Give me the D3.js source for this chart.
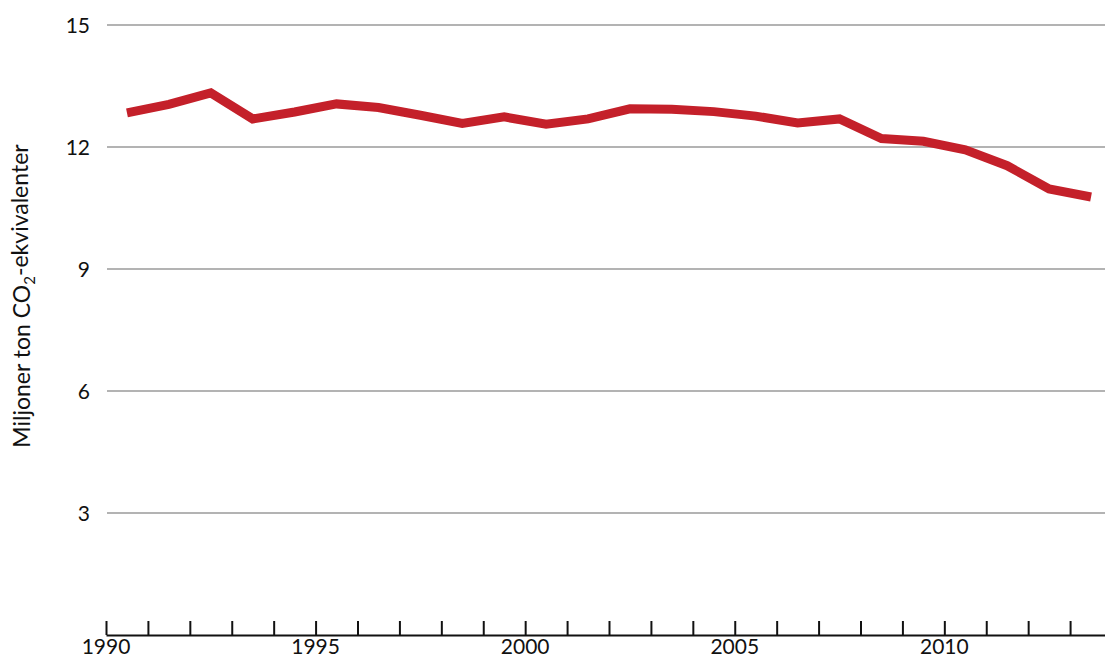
<!DOCTYPE html>
<html>
<head>
<meta charset="utf-8">
<script src="https://cdn.jsdelivr.net/npm/d3@7"></script>
<style>
  html, body { margin: 0; padding: 0; background: #fff; }
  svg { display: block; font-family: Lato, "Open Sans", sans-serif; }
</style>
</head>
<body>
<svg id="chart" width="1105" height="659"></svg>
<script>
// Annual emissions, million tonnes CO2-equivalents
const years = [1990, 1991, 1992, 1993, 1994, 1995, 1996, 1997, 1998, 1999, 2000, 2001,
               2002, 2003, 2004, 2005, 2006, 2007, 2008, 2009, 2010, 2011, 2012, 2013];
const emissions = [12.84, 13.05, 13.33, 12.69, 12.86, 13.06, 12.97, 12.78, 12.58, 12.74, 12.56, 12.69,
                   12.94, 12.93, 12.87, 12.76, 12.59, 12.69, 12.21, 12.14, 11.93, 11.54, 10.97, 10.77];
const yTicks = [3, 6, 9, 12, 15];
const xLabelYears = [1990, 1995, 2000, 2005, 2010];
const xTickYears = d3.range(1990, 2015);
const yTitle = ["Miljoner ton CO", "2", "-ekvivalenter"];

const svg = d3.select("#chart");
const W = 1105;

const x = d3.scaleLinear().domain([1990, 2014]).range([106, 1112]);
const y = d3.scaleLinear().domain([0, 15]).range([635, 25]);

// Horizontal gridlines
svg.append("g")
  .selectAll("line")
  .data(yTicks)
  .join("line")
  .attr("x1", 107)
  .attr("x2", W)
  .attr("y1", d => y(d))
  .attr("y2", d => y(d))
  .attr("stroke", "#9a9a9a")
  .attr("stroke-width", 1.5);

// Y tick labels
svg.append("g")
  .selectAll("text")
  .data(yTicks)
  .join("text")
  .attr("x", 90)
  .attr("y", d => y(d))
  .attr("dy", "0.36em")
  .attr("text-anchor", "end")
  .attr("font-size", 21)
  .attr("fill", "#111")
  .text(d => d);

// X axis: baseline with upward yearly ticks
const xAxis = d3.axisTop(x)
  .tickValues(xTickYears)
  .tickSize(14)
  .tickSizeOuter(0)
  .tickFormat("");
const gx = svg.append("g")
  .attr("transform", `translate(0,${y(0)})`)
  .call(xAxis);
gx.select(".domain").attr("stroke", "#111").attr("stroke-width", 2);
gx.selectAll(".tick line").attr("stroke", "#111").attr("stroke-width", 2);

// X labels every five years
svg.append("g")
  .selectAll("text")
  .data(xLabelYears)
  .join("text")
  .attr("x", d => x(d))
  .attr("y", 654)
  .attr("text-anchor", "middle")
  .attr("font-size", 21)
  .attr("fill", "#111")
  .text(d => d);

// Y axis title
const title = svg.append("text")
  .attr("transform", "translate(30,296) rotate(-90)")
  .attr("text-anchor", "middle")
  .attr("font-size", 23)
  .attr("fill", "#111");
title.append("tspan").text(yTitle[0]);
title.append("tspan").attr("font-size", 15).attr("dy", "0.3em").text(yTitle[1]);
title.append("tspan").attr("dy", "-0.3em").text(yTitle[2]);

// Emission line, points at mid-year
const data = years.map((yr, i) => ({ year: yr, value: emissions[i] }));
const line = d3.line()
  .x(d => x(d.year + 0.5))
  .y(d => y(d.value));

svg.append("path")
  .datum(data)
  .attr("d", line)
  .attr("fill", "none")
  .attr("stroke", "#c4202a")
  .attr("stroke-width", 9)
  .attr("stroke-linejoin", "miter")
  .attr("stroke-linecap", "butt");
</script>
</body>
</html>
